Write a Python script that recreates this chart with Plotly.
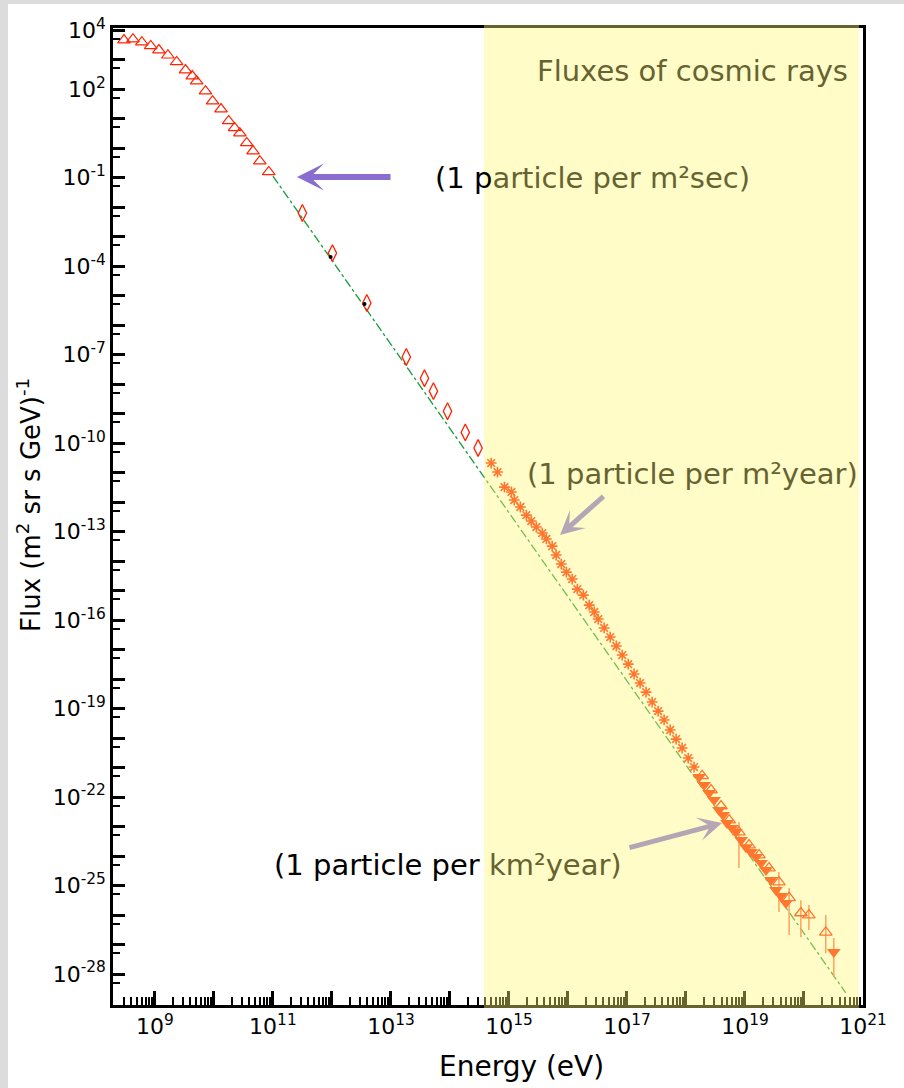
import numpy as np
import plotly.graph_objects as go

# ---------------- data ----------------
# low-energy direct measurements (open triangles)
energy_tri = [2.99e8, 4.25e8, 6.0e8, 8.5e8, 1.17e9, 1.66e9, 2.34e9, 3.3e9, 4.3e9, 5.1e9,
              7.2e9, 9.5e9, 1.32e10, 1.78e10, 2.24e10, 2.75e10, 3.6e10, 4.6e10, 6.0e10, 8.5e10]
flux_tri = [4.57e3, 4.9e3, 3.9e3, 2.9e3, 2.1e3, 1.4e3, 830, 440, 275, 186,
            85, 39, 21, 8.3, 4.8, 3.2, 1.5, 0.79, 0.36, 0.155]

# balloon / satellite data (open tall diamonds)
energy_dia = [3.16e11, 1.02e12, 3.9e12, 1.82e13, 3.7e13, 5.25e13, 9.1e13, 1.82e14, 3.0e14]
flux_dia = [6.3e-3, 2.75e-4, 5.6e-6, 8.3e-8, 1.58e-8, 5.75e-9, 1.2e-9, 2.3e-10, 6.8e-11]

# small black points
energy_dot = [9.5e11, 3.57e12]
flux_dot = [2.02e-4, 5.15e-6]

# air-shower data (asterisks)
energy_star = [5.0e14, 6.4e14, 8.4e14, 1.1e15, 1.23e15, 1.56e15, 1.97e15, 2.39e15, 2.91e15, 3.67e15,
               4.3e15, 5.4e15, 6.3e15, 7.7e15, 9.4e15, 1.18e16, 1.44e16, 1.82e16, 2.29e16, 2.79e16,
               3.26e16, 4.1e16, 5.2e16, 6.6e16, 8.3e16, 1.05e17, 1.32e17, 1.67e17, 2.11e17, 2.67e17,
               3.37e17, 4.26e17, 5.4e17, 6.8e17, 8.6e17, 1.09e18, 1.37e18]
flux_star = [2.1e-11, 1.04e-11, 3.2e-12, 2.2e-12, 1.17e-12, 6.8e-13, 3.6e-13, 2.27e-13, 1.42e-13, 8.9e-14,
             5.6e-14, 3.2e-14, 1.6e-14, 7.9e-15, 4.2e-15, 2.45e-15, 1.12e-15, 7.0e-16, 3.2e-16, 1.87e-16,
             1.08e-16, 5.4e-17, 2.65e-17, 1.32e-17, 6.5e-18, 3.2e-18, 1.48e-18, 7.3e-19, 3.6e-19, 1.66e-19,
             8.2e-20, 4.1e-20, 1.87e-20, 9.2e-21, 4.6e-21, 2.1e-21, 1.04e-21]

# ultra-high-energy data (filled down triangles)
energy_uhe = [1.67e18, 2.03e18, 2.46e18, 2.99e18, 3.63e18, 4.25e18, 4.96e18, 6.0e18, 7.0e18, 8.6e18,
              1.04e19, 1.26e19, 1.54e19, 1.87e19, 2.27e19, 2.75e19, 3.35e19, 4.07e19, 4.94e19, 3.2e20]
flux_uhe = [4.8e-22, 2.55e-22, 1.37e-22, 7.9e-23, 3.6e-23, 2.45e-23, 1.32e-23, 8.9e-24, 6.5e-24, 3.5e-24,
            2.0e-24, 1.37e-24, 9.2e-25, 5.8e-25, 3.35e-25, 1.53e-25, 7.0e-26, 4.4e-26, 2.55e-26, 5.6e-28]
flux_uhe_hi = [4.8e-22, 2.55e-22, 1.37e-22, 7.9e-23, 3.6e-23, 2.45e-23, 1.32e-23, 8.9e-24, 6.5e-24, 3.5e-24,
               2.0e-24, 1.37e-24, 9.2e-25, 5.8e-25, 3.35e-25, 1.53e-25, 7.0e-26, 4.4e-26, 2.55e-26, 1.66e-27]
flux_uhe_lo = [4.8e-22, 2.55e-22, 1.37e-22, 7.9e-23, 3.6e-23, 2.45e-23, 1.32e-23, 8.9e-24, 6.5e-24, 3.5e-24,
               2.0e-24, 1.37e-24, 9.2e-25, 5.8e-25, 3.35e-25, 1.53e-25, 7.0e-26, 4.4e-26, 2.55e-26, 7.9e-29]

# ultra-high-energy data (open triangles, with error bars)
energy_uho = [1.88e18, 2.66e18, 3.93e18, 5.4e18, 7.9e18, 1.17e19, 1.73e19, 2.55e19, 3.76e19, 5.6e19,
              8.85e19, 1.21e20, 2.34e20]
flux_uho = [5.2e-22, 1.73e-22, 4.96e-23, 1.66e-23, 6.5e-24, 2.36e-24, 1.08e-24, 3.9e-25, 1.31e-25, 3.8e-26,
            1.17e-26, 1.0e-26, 2.6e-27]
flux_uho_hi = [5.2e-22, 1.73e-22, 4.96e-23, 1.66e-23, 1.42e-23, 2.36e-24, 1.08e-24, 3.9e-25, 2.9e-25, 8.3e-26,
               3.2e-26, 2.2e-26, 1.0e-26]
flux_uho_lo = [5.2e-22, 1.73e-22, 4.96e-23, 1.66e-23, 3.9e-25, 2.36e-24, 1.08e-24, 3.9e-25, 1.26e-26, 2.1e-27,
               1.78e-27, 3.1e-27, 5.1e-28]

# power-law guide line (dash-dot)
energy_fit = [1.0e11, 5.1e20]
flux_fit = [1.12e-1, 2.3e-29]

# tick labels
x_decades = list(range(9, 22))
x_labelled = [9, 11, 13, 15, 17, 19, 21]
y_decades = list(range(-28, 5))
y_labelled = [4, 2, -1, -4, -7, -10, -13, -16, -19, -22, -25, -28]

# ---------------- figure ----------------
RED = "#ff2200"
FONT = "DejaVu Sans"
OLIVE = "#666331"

fig = go.Figure()

fig.add_trace(go.Scatter(x=energy_fit, y=flux_fit, mode="lines",
                         line=dict(color="#159a3a", width=1.3, dash="dashdot"),
                         showlegend=False, hoverinfo="skip"))
fig.add_trace(go.Scatter(x=energy_tri, y=flux_tri, mode="markers",
                         marker=dict(symbol="triangle-up-open", size=11, color=RED,
                                     line=dict(width=1.2, color=RED)),
                         showlegend=False))
fig.add_trace(go.Scatter(x=energy_dia, y=flux_dia, mode="markers",
                         marker=dict(symbol="diamond-tall-open", size=12, color=RED,
                                     line=dict(width=1.3, color=RED)),
                         showlegend=False))
fig.add_trace(go.Scatter(x=energy_dot, y=flux_dot, mode="markers",
                         marker=dict(symbol="circle", size=4, color="black"),
                         showlegend=False))
fig.add_trace(go.Scatter(x=energy_star, y=flux_star, mode="markers",
                         marker=dict(symbol="asterisk-open", size=9, color=RED,
                                     line=dict(width=1.6, color=RED)),
                         showlegend=False))

uho_up = [h - f for h, f in zip(flux_uho_hi, flux_uho)]
uho_dn = [f - l for f, l in zip(flux_uho, flux_uho_lo)]
fig.add_trace(go.Scatter(x=energy_uho, y=flux_uho, mode="markers",
                         marker=dict(symbol="triangle-up-open", size=11, color=RED,
                                     line=dict(width=1.3, color=RED)),
                         error_y=dict(type="data", symmetric=False, array=uho_up, arrayminus=uho_dn,
                                      color="#ff6a50", thickness=1.5, width=0),
                         showlegend=False))
uhe_up = [h - f for h, f in zip(flux_uhe_hi, flux_uhe)]
uhe_dn = [f - l for f, l in zip(flux_uhe, flux_uhe_lo)]
fig.add_trace(go.Scatter(x=energy_uhe, y=flux_uhe, mode="markers",
                         marker=dict(symbol="triangle-down", size=12, color=RED,
                                     line=dict(width=0)),
                         error_y=dict(type="data", symmetric=False, array=uhe_up, arrayminus=uhe_dn,
                                      color="#ff6a50", thickness=1.5, width=0),
                         showlegend=False))

# ---- axes ----
x_tickvals = [10.0 ** d for d in x_decades]
x_ticktext = [f"10<sup>{d}</sup>" if d in x_labelled else "" for d in x_decades]
x_minor = [k * 10.0 ** d for d in range(8, 21) for k in range(2, 10)]
y_tickvals = [10.0 ** d for d in y_decades]
y_ticktext = [f"10<sup>{d}</sup>" if d in y_labelled else "" for d in y_decades]
y_minor = [5 * 10.0 ** d for d in range(-30, 4)]

fig.update_xaxes(type="log", range=[8.29, 21.0], showgrid=False, zeroline=False,
                 showline=True, linecolor="black", linewidth=2.5, mirror=True,
                 ticks="inside", ticklen=14, tickwidth=2.5, tickcolor="black",
                 tickmode="array", tickvals=x_tickvals, ticktext=x_ticktext,
                 tickfont=dict(family=FONT, size=22, color="black"),
                 minor=dict(tickmode="array", tickvals=x_minor, ticks="inside", ticklen=8,
                            tickwidth=2, tickcolor="black", showgrid=False))
fig.update_yaxes(type="log", range=[-29.05, 4.07], showgrid=False, zeroline=False,
                 showline=True, linecolor="black", linewidth=2.5, mirror=True,
                 ticks="inside", ticklen=12, tickwidth=2.5, tickcolor="black",
                 tickmode="array", tickvals=y_tickvals, ticktext=y_ticktext,
                 tickfont=dict(family=FONT, size=22, color="black"),
                 minor=dict(tickmode="array", tickvals=y_minor, ticks="inside", ticklen=7,
                            tickwidth=2, tickcolor="black", showgrid=False))

# ---- shapes: translucent yellow highlight, grey frame strips ----
shapes = [
    dict(type="rect", xref="paper", yref="paper", x0=0.4947, x1=0.9947, y0=-0.003, y1=1.003,
         fillcolor="rgba(255,248,118,0.4)", line=dict(width=0), layer="above"),
    dict(type="rect", xref="paper", yref="paper", x0=-0.1507, x1=-0.14, y0=-0.09, y1=1.03,
         fillcolor="#dcdcdc", line=dict(width=0), layer="above"),
    dict(type="rect", xref="paper", yref="paper", x0=-0.1507, x1=1.06, y0=1.0246, y1=1.03,
         fillcolor="#dcdcdc", line=dict(width=0), layer="above"),
]

ann_font = dict(family=FONT, size=29, color=OLIVE)
annotations = [
    dict(xref="paper", yref="paper", x=0.5627, y=(1005 - 71) / 977, xanchor="left", yanchor="middle",
         text="Fluxes of cosmic rays", showarrow=False, font=ann_font),
    dict(xref="paper", yref="paper", x=(433 - 113) / 750, y=(1005 - 178) / 977, xanchor="left",
         yanchor="middle", showarrow=False, font=ann_font,
         text="<span style='color:black'>(1 p</span>article per m²sec)"),
    dict(xref="paper", yref="paper", x=(525 - 113) / 750, y=(1005 - 474) / 977, xanchor="left",
         yanchor="middle", showarrow=False, font=ann_font, text="(1 particle per m²year)"),
    dict(xref="paper", yref="paper", x=(272 - 113) / 750, y=(1005 - 865) / 977, xanchor="left",
         yanchor="middle", showarrow=False, font=ann_font,
         text="<span style='color:black'>(1 particle per </span>km²year)"),
    # arrows
    dict(xref="paper", yref="paper", x=(297 - 113) / 750, y=(1005 - 177) / 977, ax=95, ay=0,
         text="", showarrow=True, arrowhead=3, arrowwidth=6, arrowsize=0.75, arrowcolor="#8a6dd0"),
    dict(xref="paper", yref="paper", x=(560 - 113) / 750, y=(1005 - 535) / 977, ax=45, ay=-40,
         text="", showarrow=True, arrowhead=3, arrowwidth=5, arrowsize=0.8, arrowcolor="#b5a5b5"),
    dict(xref="paper", yref="paper", x=(722 - 113) / 750, y=(1005 - 823) / 977, ax=-94, ay=25,
         text="", showarrow=True, arrowhead=3, arrowwidth=5, arrowsize=0.8, arrowcolor="#b5a5b5"),
    # axis titles
    dict(xref="paper", yref="paper", x=(521 - 113) / 750, y=(1005 - 1066) / 977, xanchor="center",
         yanchor="middle", showarrow=False, text="Energy (eV)",
         font=dict(family=FONT, size=28, color="black")),
    dict(xref="paper", yref="paper", x=(29 - 113) / 750, y=(1005 - 505) / 977, xanchor="center",
         yanchor="middle", showarrow=False, textangle=-90,
         text="Flux (m<sup>2</sup> sr s GeV)<sup>-1</sup>",
         font=dict(family=FONT, size=26, color="black")),
]

fig.update_layout(width=904, height=1088, margin=dict(l=113, r=41, t=28, b=83),
                  paper_bgcolor="white", plot_bgcolor="white",
                  shapes=shapes, annotations=annotations, showlegend=False,
                  font=dict(family=FONT))

fig.write_html("out.html")
